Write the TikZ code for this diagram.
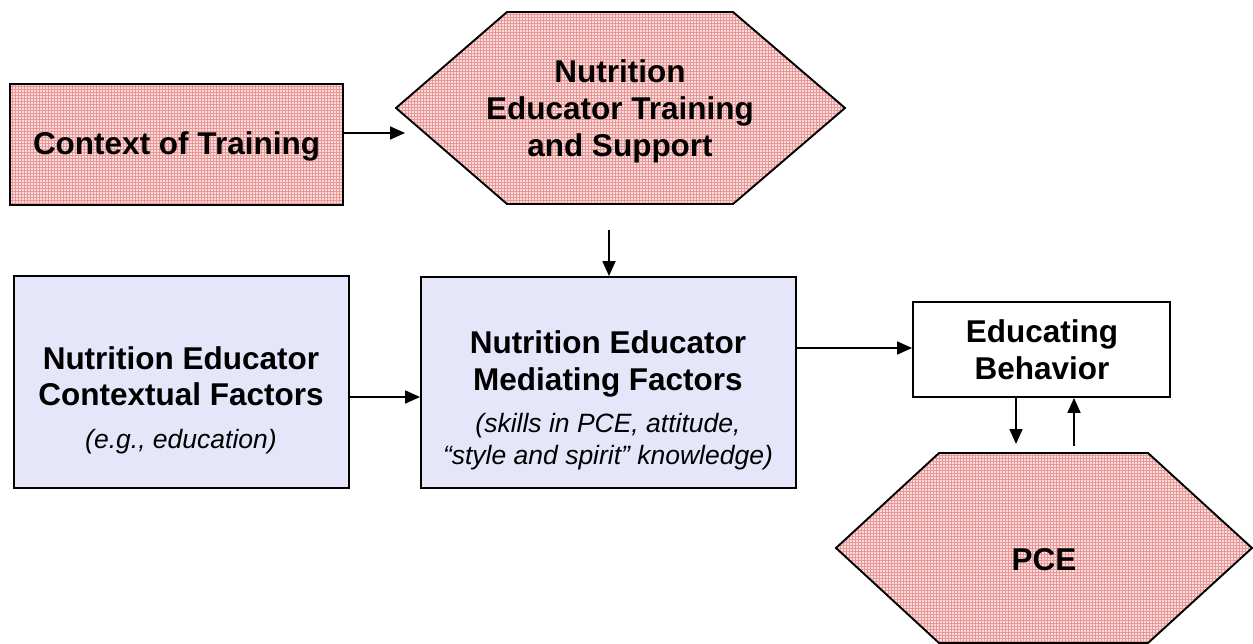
\documentclass[tikz,border=0pt]{standalone}
\usepackage{fontspec}
\setmainfont{Liberation Sans}
\usetikzlibrary{arrows.meta,patterns}
\definecolor{pinkbg}{RGB}{250,222,222}
\definecolor{pinkgrid}{RGB}{232,150,150}
\definecolor{lav}{RGB}{230,230,250}
\tikzset{
  pinkfill/.style={preaction={fill=pinkbg},pattern=grid,pattern color=pinkgrid},
  shapeline/.style={draw=black,line width=1.9pt},
  bluebox/.style={shapeline,fill=lav,rectangle,inner sep=0pt},
  whitebox/.style={shapeline,fill=white,rectangle,inner sep=0pt},
  pinkbox/.style={shapeline,pinkfill,rectangle,inner sep=0pt},
  bt/.style={anchor=base,font=\fontsize{31.5}{36}\selectfont\bfseries,inner sep=0pt},
  it/.style={anchor=base,font=\fontsize{26.5}{30}\selectfont\itshape,inner sep=0pt},
  arr/.style={line width=1.8pt,-{Triangle[length=15pt,width=13pt]}},
}
\begin{document}
\begin{tikzpicture}[x=1pt,y=-1pt]
\useasboundingbox (0,0) rectangle (1253,644);
% boxes
\node[pinkbox,minimum width=333pt,minimum height=121pt] (ctx) at (176.5,144.5) {};
\node[bluebox,minimum width=335pt,minimum height=212pt] (cf) at (181.5,382) {};
\node[bluebox,minimum width=375pt,minimum height=211pt] (mf) at (608.5,382.5) {};
\node[whitebox,minimum width=257pt,minimum height=95pt] (eb) at (1041.5,349.5) {};
% hexagons
\draw[shapeline,pinkfill] (507,12) -- (733,12) -- (845,108) -- (733,204) -- (507,204) -- (396,108) -- cycle;
\draw[shapeline,pinkfill] (939,453) -- (1148,453) -- (1252,548) -- (1148,643) -- (939,643) -- (836,548) -- cycle;
% texts
\node[bt] (t1) at (176.5,155) {Context of Training};
\node[bt] (t2) at (620,83) {Nutrition};
\node[bt] (t3) at (620,120) {Educator Training};
\node[bt] (t4) at (620,157) {and Support};
\node[bt] (t5) at (181,369) {Nutrition Educator};
\node[bt] (t6) at (181,405) {Contextual Factors};
\node[it] (t7) at (181,448) {(e.g., education)};
\node[bt] (t8) at (608,353) {Nutrition Educator};
\node[bt] (t9) at (608,390) {Mediating Factors};
\node[it] (t10) at (608,432) {(skills in PCE, attitude,};
\node[it] (t11) at (608,464) {“style and spirit” knowledge)};
\node[bt] (t12) at (1042,342) {Educating};
\node[bt] (t13) at (1042,379) {Behavior};
\node[bt] (t14) at (1044,570) {PCE};
% arrow endpoints
\coordinate (hexL) at (405,133);
\coordinate (hexB) at (609,230);
\coordinate (pceT1) at (1016,444);
\coordinate (pceT2) at (1074,446);
\draw[arr] (ctx.east |- hexL) -- (hexL);
\draw[arr] (hexB) -- (hexB |- mf.north);
\draw[arr] (cf.east |- 0,397) -- (mf.west |- 0,397);
\draw[arr] (mf.east |- 0,348) -- (eb.west |- 0,348);
\draw[arr] (eb.south -| pceT1) -- (pceT1);
\draw[arr] (pceT2) -- (eb.south -| pceT2);
\end{tikzpicture}
\end{document}
